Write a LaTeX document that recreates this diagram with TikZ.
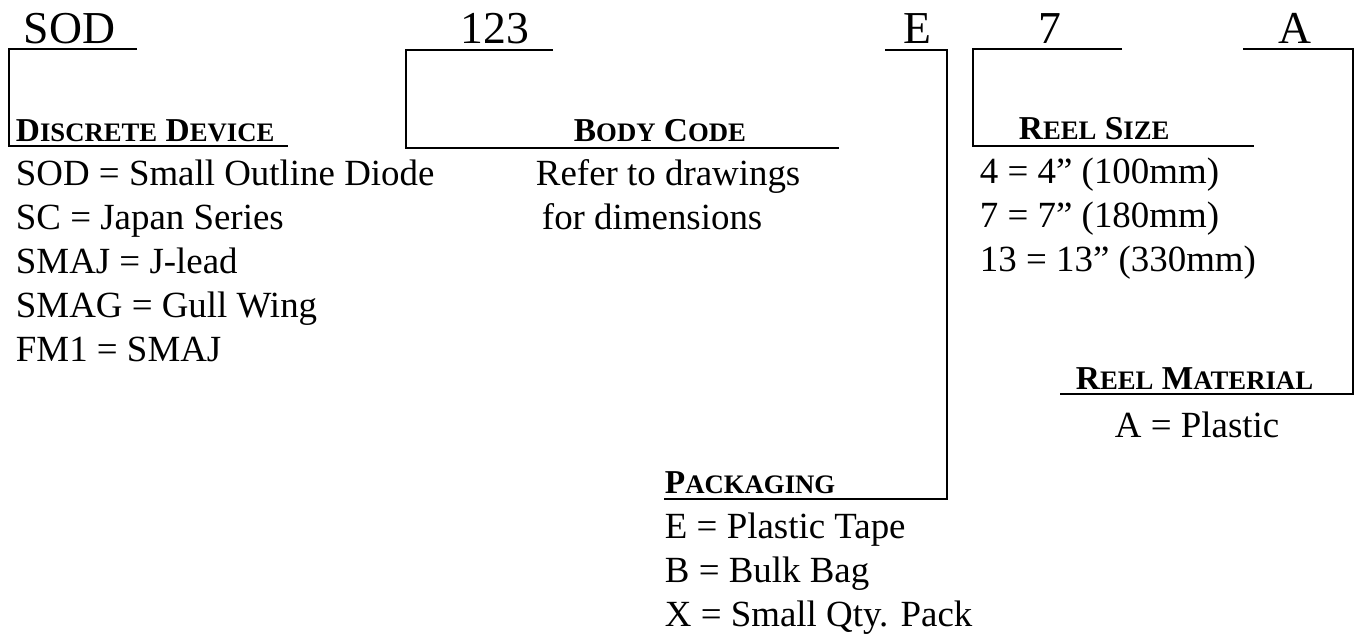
\documentclass[tikz,border=0pt]{standalone}
\usepackage{fontspec}
\setmainfont{Liberation Serif}
\usetikzlibrary{positioning}
\newcommand{\smc}[1]{{\fontsize{15.2}{18}\selectfont #1}}

\begin{document}
\begin{tikzpicture}[x=0.02cm, y=-0.02cm, line width=1.1pt,
    code/.style={anchor=base west, inner sep=0pt, font=\fontsize{26}{30}\selectfont},
    head/.style={anchor=base west, inner sep=0pt, font=\bfseries\fontsize{19}{22}\selectfont},
    item/.style={anchor=base west, inner sep=0pt, font=\fontsize{21}{25}\selectfont}]

    \useasboundingbox (0,0) rectangle (1355,637);

    % Part number fields
    \node[code] (sodlbl) at (23,43) {SOD};
    \node[code] (bodylbl) at (460,43) {123};
    \node[code] (pkglbl) at (903,43) {E};
    \node[code] (sizelbl) at (1038,43) {7};
    \node[code] (matlbl) at (1278,43) {A};

    % Bracket corners
    \coordinate (devA) at (137,49);
    \coordinate (devB) at (9,49);
    \coordinate (devC) at (288,146);
    \coordinate (bodyA) at (553,50);
    \coordinate (bodyB) at (406,50);
    \coordinate (bodyC) at (839,148);
    \coordinate (pkgA) at (885,50);
    \coordinate (pkgB) at (947,499);
    \coordinate (pkgC) at (664,499);
    \coordinate (sizeA) at (1122,49);
    \coordinate (sizeB) at (973,49);
    \coordinate (sizeC) at (1254,146);
    \coordinate (matA) at (1243,49);
    \coordinate (matB) at (1353,394);
    \coordinate (matC) at (1060,394);

    % Brackets
    \draw (devA) -- (devB) |- (devC);
    \draw (bodyA) -- (bodyB) |- (bodyC);
    \draw (pkgA) -| (pkgB) -- (pkgC);
    \draw (sizeA) -- (sizeB) |- (sizeC);
    \draw (matA) -| (matB) -- (matC);

    % Headings
    \node[head] (hdev) at (15,141) {D\smc{ISCRETE} D\smc{EVICE}};
    \node[head] (hbody) at (573,141) {B\smc{ODY} C\smc{ODE}};
    \node[head] (hpkg) at (664,493) {P\smc{ACKAGING}};
    \node[head] (hsize) at (1018,139) {R\smc{EEL} S\smc{IZE}};
    \node[head] (hmat) at (1075,389) {R\smc{EEL} M\smc{ATERIAL}};

    % Code lists
    \foreach \t [count=\i] in {SOD = Small Outline Diode, SC = Japan Series,
        SMAJ = J-lead, SMAG = Gull Wing, FM1 = SMAJ}
        \node[item] (dev\i) at (15,141+44*\i) {\t};
    \node[item] (body1) at (535,185) {Refer to drawings};
    \node[item] (body2) at (541,229) {for dimensions};
    \foreach \t [count=\i] in {E = Plastic Tape, B = Bulk Bag, X = Small Qty. Pack}
        \node[item] (pkg\i) at (664,494+44*\i) {\t};
    \foreach \t [count=\i] in {4 = 4'' (100mm), 7 = 7'' (180mm), 13 = 13'' (330mm)}
        \node[item] (size\i) at (979,139+44*\i) {\t};
    \node[item] (mat1) at (1114,437) {A = Plastic};
\end{tikzpicture}
\end{document}
